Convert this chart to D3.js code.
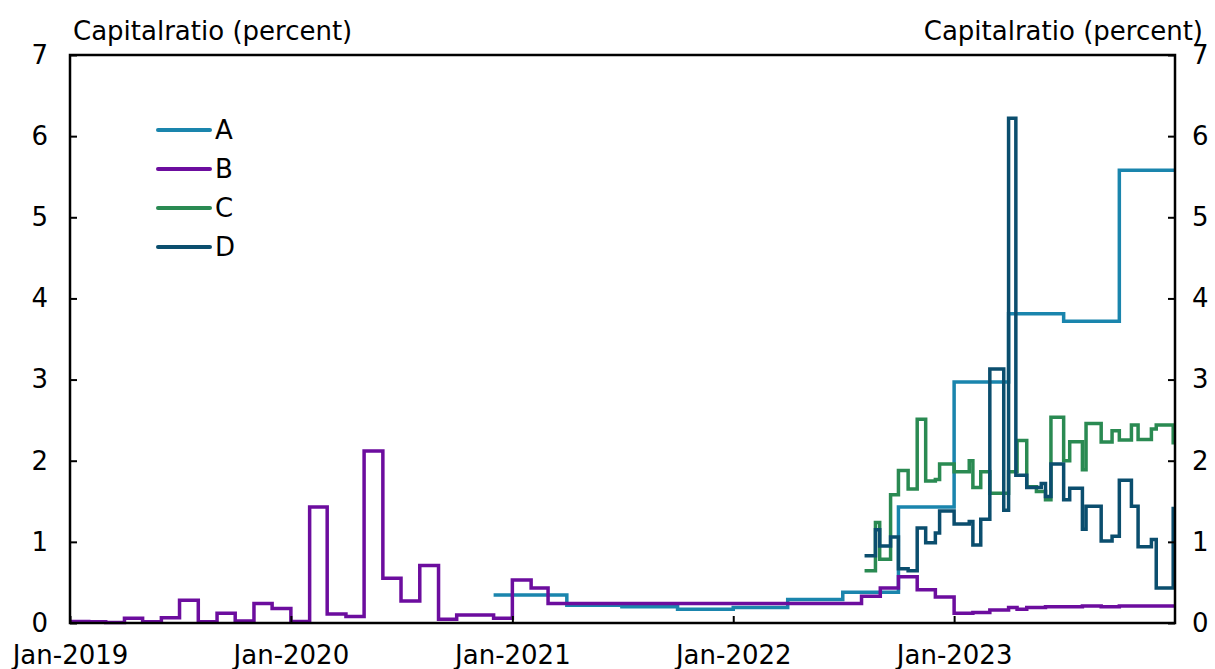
<!DOCTYPE html>
<html>
<head>
<meta charset="utf-8">
<script src="https://cdn.jsdelivr.net/npm/d3@7"></script>
<style>
  body { margin: 0; background: #fff; }
  text { font-family: "DejaVu Sans", sans-serif; }
</style>
</head>
<body>
<svg class="line_chart"></svg>
<script>
//
//Series A, quarterly steps
const datesA = ["2020-12-01","2021-04-01","2021-07-01","2021-10-01","2022-01-01","2022-04-01",
    "2022-07-01","2022-10-01","2023-01-01","2023-04-01","2023-07-01","2023-10-01","2024-01-01"];
const valuesA = [0.345,0.22,0.20,0.17,0.19,0.29,0.38,1.43,2.97,3.81,3.72,5.58,5.58];
//
//Series B, monthly steps
const datesB = ["2019-01-01","2019-02-01","2019-03-01","2019-04-01","2019-05-01","2019-06-01",
    "2019-07-01","2019-08-01","2019-09-01","2019-10-01","2019-11-01","2019-12-01",
    "2020-01-01","2020-02-01","2020-03-01","2020-04-01","2020-05-01","2020-06-01",
    "2020-07-01","2020-08-01","2020-09-01","2020-10-01","2020-11-01","2020-12-01",
    "2021-01-01","2021-02-01","2021-03-01","2022-08-01","2022-09-01","2022-10-01",
    "2022-11-01","2022-12-01","2023-01-01","2023-02-01","2023-03-01","2023-04-01",
    "2023-04-15","2023-05-01","2023-06-01","2023-08-01","2023-09-01","2023-10-01","2024-01-01"];
const valuesB = [0.02,0.015,0.005,0.06,0.015,0.065,0.28,0.015,0.12,0.025,0.24,0.18,
    0.02,1.43,0.11,0.08,2.12,0.55,0.27,0.71,0.045,0.10,0.10,0.06,
    0.53,0.43,0.24,0.33,0.43,0.57,0.41,0.32,0.12,0.13,0.16,0.19,
    0.17,0.19,0.20,0.21,0.20,0.21,0.21];
//
//Series C and D share their dates
const datesCD = ["2022-08-06","2022-08-24","2022-08-31","2022-09-18","2022-10-01","2022-10-17",
    "2022-11-01","2022-11-15","2022-12-01","2022-12-08","2023-01-01","2023-01-26","2023-02-01",
    "2023-02-14","2023-03-01","2023-03-24","2023-04-01","2023-04-13","2023-04-15","2023-05-01",
    "2023-05-17","2023-05-25","2023-06-01","2023-06-10","2023-07-01","2023-07-11","2023-08-01",
    "2023-08-07","2023-09-01","2023-09-19","2023-10-01","2023-10-21","2023-11-01","2023-11-23",
    "2023-12-01","2023-12-29","2024-01-01"];
const valuesC = [0.645,1.24,0.785,1.58,1.88,1.65,2.51,1.75,1.77,1.96,1.865,2.0,1.67,
    1.865,1.60,1.60,1.865,1.865,2.25,1.68,1.62,1.62,1.52,2.535,2.0,2.235,1.89,
    2.46,2.23,2.37,2.255,2.44,2.26,2.39,2.44,2.22,2.22];
const valuesD = [0.83,1.15,0.95,1.06,0.67,0.645,1.17,0.99,1.11,1.38,1.22,1.25,0.96,
    1.28,3.13,1.39,6.22,1.82,1.82,1.67,1.67,1.72,1.56,1.96,1.52,1.66,1.155,
    1.44,1.01,1.07,1.76,1.44,0.94,1.03,0.43,1.41,1.41];
//
//Axis ticks and legend names
const yTicks = [0,1,2,3,4,5,6,7];
const xTicks = ["2019-01-01","2020-01-01","2021-01-01","2022-01-01","2023-01-01"];
const names = ["A","B","C","D"];
const colors = ["#1a85ad","#6c0d9e","#2a8a52","#0b4e6e"];

const parse = d3.timeParse("%Y-%m-%d");
const series = [
    {name:"A", dates:datesA, values:valuesA},
    {name:"B", dates:datesB, values:valuesB},
    {name:"C", dates:datesCD, values:valuesC},
    {name:"D", dates:datesCD, values:valuesD}
].map((s,i)=>({name:s.name, color:colors[i],
    points:s.dates.map((d,j)=>({date:parse(d), value:s.values[j]}))}));
//
//Set the variables
var width = 1105;
var height = 568;
var margin = {top:55, left:70, right:40, bottom:46};

var svg = d3.select(".line_chart")
    .attr("width", width + margin.left + margin.right)
    .attr("height", height + margin.top + margin.bottom)
    .append("g")
    .attr("transform", "translate(" + margin.left + "," + margin.top + ")");
//
//Scales
var x = d3.scaleTime()
    .domain([parse("2019-01-01"), parse("2024-01-01")])
    .range([0, width]);
var y = d3.scaleLinear()
    .domain([0, 7])
    .range([height, 0]);
//
//Lines
var line = d3.line()
    .curve(d3.curveStepAfter)
    .x((d)=>{return x(d.date)})
    .y((d)=>{return y(d.value)});

svg.append("g")
    .selectAll("path")
    .data(series)
    .enter()
    .append("path")
    .style("fill", "none")
    .style("stroke", (d)=>d.color)
    .style("stroke-width", 3.5)
    .attr("d", (d)=>line(d.points));
//
//Axes with inward ticks
var fs = 26;
svg.append("g")
    .call(d3.axisLeft(y).tickValues(yTicks).tickSize(-7).tickPadding(22).tickFormat(d3.format("d")))
    .call(g=>g.select(".domain").remove());
svg.append("g")
    .attr("transform", "translate(" + width + ",0)")
    .call(d3.axisRight(y).tickValues(yTicks).tickSize(-7).tickPadding(17).tickFormat(d3.format("d")))
    .call(g=>g.select(".domain").remove());
svg.append("g")
    .attr("transform", "translate(0," + height + ")")
    .call(d3.axisBottom(x).tickValues(xTicks.map(parse)).tickSize(-7).tickPadding(23)
        .tickFormat(d3.timeFormat("%b-%Y")))
    .call(g=>g.select(".domain").remove());
svg.selectAll(".tick line").attr("stroke", "#000").attr("stroke-width", 2);
svg.selectAll(".tick text").attr("fill", "#000").style("font-size", fs + "px");
//
//Frame
svg.append("rect")
    .attr("width", width)
    .attr("height", height)
    .style("fill", "none")
    .style("stroke", "#000")
    .style("stroke-width", 2.5);
//
//Axis titles
svg.append("text")
    .attr("x", 3)
    .attr("y", -15)
    .style("font-size", fs + "px")
    .text("Capitalratio (percent)");
svg.append("text")
    .attr("x", width + 28)
    .attr("y", -15)
    .attr("text-anchor", "end")
    .style("font-size", fs + "px")
    .text("Capitalratio (percent)");
//
//Legend
var legend = svg.append("g")
    .selectAll("g")
    .data(names)
    .enter()
    .append("g")
    .attr("transform", (d,i)=>"translate(88," + (75 + i * 39) + ")");
legend.append("line")
    .attr("x1", 0)
    .attr("x2", 52)
    .style("stroke", (d,i)=>colors[i])
    .style("stroke-width", 4)
    .style("stroke-linecap", "round");
legend.append("text")
    .attr("x", 57)
    .attr("dy", "0.36em")
    .style("font-size", fs + "px")
    .text((d)=>d);
</script>
</body>
</html>
